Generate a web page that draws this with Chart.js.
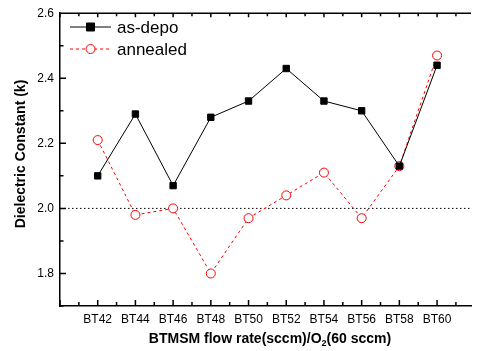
<!DOCTYPE html>
<html>
<head>
<meta charset="utf-8">
<script src="https://cdn.jsdelivr.net/npm/chart.js@4/dist/chart.umd.min.js"></script>
<style>
  html, body { margin: 0; padding: 0; background: #fff; overflow: hidden; }
  #wrap { width: 477px; height: 351px; }
</style>
</head>
<body>
<div id="wrap"><canvas id="chart"></canvas></div>
<script>
// sample names on the x axis
const samples = ['BT42', 'BT44', 'BT46', 'BT48', 'BT50', 'BT52', 'BT54', 'BT56', 'BT58', 'BT60'];
// dielectric constant, as deposited
const asDepo = [2.10, 2.29, 2.07, 2.28, 2.33, 2.43, 2.33, 2.30, 2.13, 2.44];
// dielectric constant, after anneal
const annealed = [2.21, 1.98, 2.00, 1.80, 1.97, 2.04, 2.11, 1.97, 2.13, 2.47];
const yLabels = [1.8, 2.0, 2.2, 2.4, 2.6];
const refLine = 2.0;

const FONT = 'Arial, "Liberation Sans", sans-serif';

const toPoints = arr => arr.map((v, i) => ({ x: i, y: v }));

// frame, inward ticks, dotted reference line, legend and axis titles
const decor = {
  id: 'decor',
  beforeDatasetsDraw(chart) {
    const { ctx, chartArea: a, scales: { y } } = chart;
    const py = y.getPixelForValue(refLine);
    ctx.save();
    ctx.strokeStyle = '#000';
    ctx.lineWidth = 1;
    ctx.setLineDash([1.5, 2.5]);
    ctx.beginPath();
    ctx.moveTo(a.left, py);
    ctx.lineTo(a.right, py);
    ctx.stroke();
    ctx.restore();
  },
  afterDraw(chart) {
    const { ctx, chartArea: a, scales: { x, y } } = chart;
    ctx.save();
    ctx.strokeStyle = '#000';
    ctx.lineWidth = 1.5;
    ctx.beginPath();
    // top border
    ctx.moveTo(a.left, a.top);
    ctx.lineTo(a.right, a.top);
    // x ticks, bottom and top
    for (let i = -1; i <= samples.length; i += 0.5) {
      const px = x.getPixelForValue(i);
      if (px > a.right + 0.5 || px < a.left - 0.5) continue;
      const major = Number.isInteger(i);
      ctx.moveTo(px, a.bottom);
      ctx.lineTo(px, a.bottom - (major ? 6 : 4));
      ctx.moveTo(px, a.top);
      ctx.lineTo(px, a.top + (major ? 4 : 3));
    }
    // y ticks, left
    for (let k = 17; k <= 26; k++) {
      const py = y.getPixelForValue(k / 10);
      const major = k % 2 === 0;
      ctx.moveTo(a.left, py);
      ctx.lineTo(a.left + (major ? 6 : 3.5), py);
    }
    ctx.stroke();

    // legend
    const rows = [
      { label: 'as-depo', ds: chart.data.datasets[0], y: 27 },
      { label: 'annealed', ds: chart.data.datasets[1], y: 49 }
    ];
    rows.forEach(r => {
      ctx.save();
      ctx.strokeStyle = r.ds.borderColor;
      ctx.lineWidth = 1;
      ctx.setLineDash(r.ds.borderDash || []);
      ctx.beginPath();
      ctx.moveTo(70, r.y);
      ctx.lineTo(111, r.y);
      ctx.stroke();
      ctx.setLineDash([]);
      ctx.fillStyle = r.ds.pointBackgroundColor;
      ctx.strokeStyle = r.ds.pointBorderColor;
      ctx.beginPath();
      if (r.ds.pointStyle === 'rect') {
        ctx.rect(90.5 - 4, r.y - 4, 8, 8);
      } else {
        ctx.arc(90.5, r.y, r.ds.pointRadius, 0, Math.PI * 2);
      }
      ctx.fill();
      ctx.stroke();
      ctx.fillStyle = '#000';
      ctx.font = '17px ' + FONT;
      ctx.textBaseline = 'middle';
      ctx.textAlign = 'left';
      ctx.fillText(r.label, 117, r.y + 1);
      ctx.restore();
    });

    // y title
    ctx.fillStyle = '#000';
    ctx.font = 'bold 14px ' + FONT;
    ctx.textAlign = 'center';
    ctx.textBaseline = 'middle';
    ctx.save();
    ctx.translate(21, 154);
    ctx.rotate(-Math.PI / 2);
    ctx.fillText('Dielectric Constant (k)', 0, 0);
    ctx.restore();

    // x title with subscript
    const p1 = 'BTMSM flow rate(sccm)/O', sub = '2', p2 = '(60 sccm)';
    ctx.textAlign = 'left';
    ctx.textBaseline = 'alphabetic';
    ctx.font = 'bold 14px ' + FONT;
    const w1 = ctx.measureText(p1).width, w3 = ctx.measureText(p2).width;
    ctx.font = 'bold 9px ' + FONT;
    const w2 = ctx.measureText(sub).width;
    let sx = 270 - (w1 + w2 + w3) / 2;
    const base = 343;
    ctx.font = 'bold 14px ' + FONT;
    ctx.fillText(p1, sx, base);
    ctx.font = 'bold 9px ' + FONT;
    ctx.fillText(sub, sx + w1, base + 3);
    ctx.font = 'bold 14px ' + FONT;
    ctx.fillText(p2, sx + w1 + w2, base);
    ctx.restore();
  }
};

new Chart(document.getElementById('chart').getContext('2d'), {
  type: 'line',
  data: {
    datasets: [{
      label: 'as-depo',
      data: toPoints(asDepo),
      borderColor: '#000',
      borderWidth: 1,
      pointStyle: 'rect',
      pointRadius: 4.5,
      pointBackgroundColor: '#000',
      pointBorderColor: '#000',
      pointBorderWidth: 1,
      tension: 0
    }, {
      label: 'annealed',
      data: toPoints(annealed),
      borderColor: '#ff0000',
      borderDash: [3, 3],
      borderWidth: 1,
      pointStyle: 'circle',
      pointRadius: 4.5,
      pointBackgroundColor: '#fff',
      pointBorderColor: '#ff0000',
      pointBorderWidth: 1,
      tension: 0
    }]
  },
  options: {
    responsive: true,
    maintainAspectRatio: false,
    animation: false,
    layout: { padding: { top: 12, right: 0, left: 0, bottom: 0 } },
    plugins: { legend: { display: false }, tooltip: { enabled: false } },
    scales: {
      x: {
        type: 'linear',
        min: -1,
        max: 9.9,
        afterFit: s => { s.height = 45; },
        grid: { display: false, drawTicks: false },
        border: { display: true, color: '#000', width: 1.5 },
        ticks: {
          stepSize: 1,
          autoSkip: false,
          maxRotation: 0,
          padding: 6,
          color: '#000',
          font: { family: FONT, size: 12 },
          callback: v => (Number.isInteger(v) && samples[v]) ? samples[v] : ''
        }
      },
      y: {
        min: 1.7,
        max: 2.6,
        afterFit: s => { s.width = 60; },
        grid: { display: false, drawTicks: false },
        border: { display: true, color: '#000', width: 1.5 },
        ticks: {
          stepSize: 0.1,
          autoSkip: false,
          padding: 6,
          color: '#000',
          font: { family: FONT, size: 12 },
          callback: v => yLabels.some(t => Math.abs(t - v) < 1e-6) ? v.toFixed(1) : ''
        }
      }
    }
  },
  plugins: [decor]
});
</script>
</body>
</html>
